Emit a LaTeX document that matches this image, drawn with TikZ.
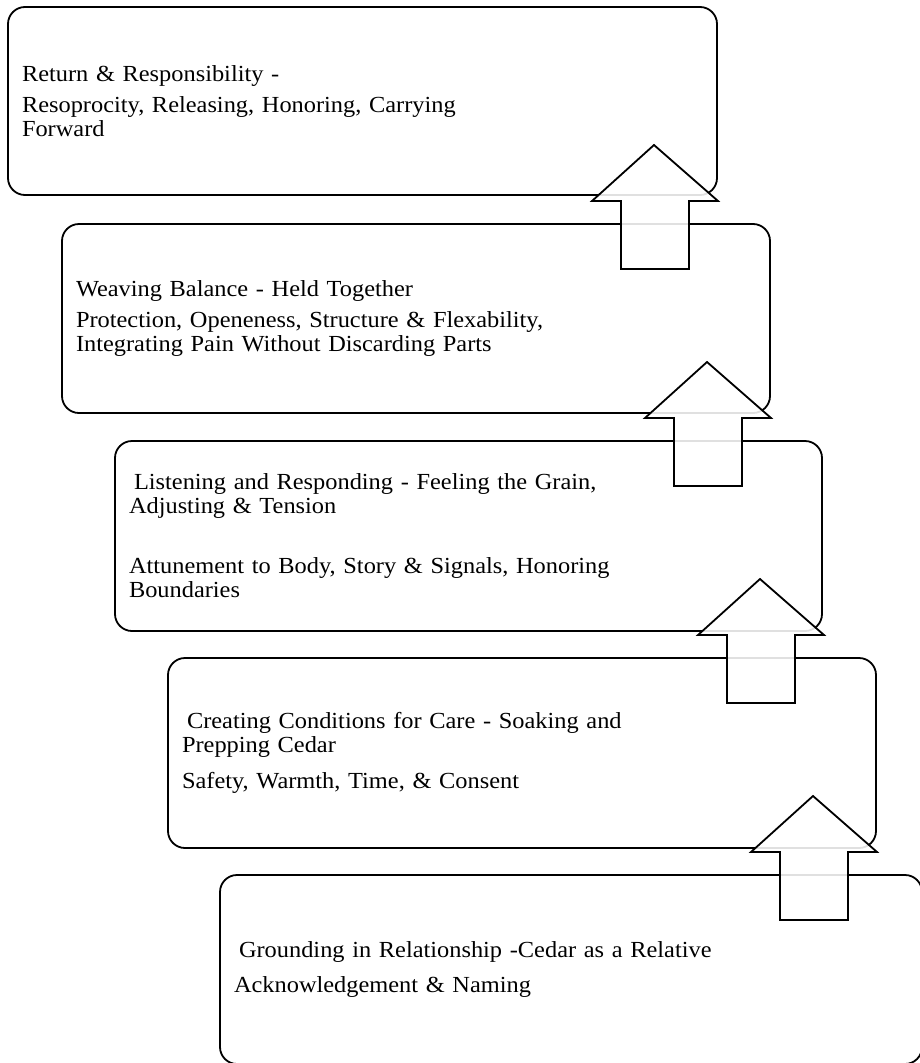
\documentclass[tikz,border=0pt]{standalone}
\usepackage{fontspec}
\setmainfont{Liberation Serif}[FakeStretch=1.06]
\begin{document}
\begin{tikzpicture}[x=1pt,y=-1pt,
  stage/.style={draw=black, line width=1.8pt, rounded corners=17pt, rectangle,
    anchor=north west, inner xsep=14pt, inner ysep=0pt, outer sep=0pt,
    align=left, font=\fontsize{23}{24}\selectfont},
  blockarrow/.style={draw=black, line width=1.8pt, fill=white, fill opacity=0.88,
    draw opacity=1, line join=miter}]
\useasboundingbox (0,0) rectangle (920,1063);
\clip (0,0) rectangle (920,1063);

\node[stage, minimum width=709pt, minimum height=188pt, text width=681pt] (b1) at (8,7)
  {Return \& Responsibility -\\[7pt]
   Resoprocity, Releasing, Honoring, Carrying\\
   Forward};
\node[stage, minimum width=708pt, minimum height=189pt, text width=680pt] (b2) at (62,224)
  {Weaving Balance - Held Together\\[7pt]
   Protection, Openeness, Structure \& Flexability,\\
   Integrating Pain Without Discarding Parts};
\node[stage, minimum width=707pt, minimum height=190pt, text width=679pt] (b3) at (115,441)
  {\hspace*{5pt}Listening and Responding - Feeling the Grain,\\
   Adjusting \& Tension\\[36pt]
   Attunement to Body, Story \& Signals, Honoring\\
   Boundaries};
\node[stage, minimum width=708pt, minimum height=190pt, text width=680pt] (b4) at (168,658)
  {\hspace*{5pt}Creating Conditions for Care - Soaking and\\
   Prepping Cedar\\[12pt]
   Safety, Warmth, Time, \& Consent};
\node[stage, minimum width=702pt, minimum height=189pt, text width=674pt] (b5) at (220,875)
  {\hspace*{5pt}Grounding in Relationship -Cedar as a Relative\\[11pt]
   Acknowledgement \& Naming};

\coordinate (t1) at (654,145);
\coordinate (t2) at (707,362);
\coordinate (t3) at (760,579);
\coordinate (t4) at (813,796);
\foreach \t in {t1,t2,t3,t4}{
  \draw[blockarrow] (\t) -- ++(-62,56) -- ++(29,0) -- ++(0,68) -- ++(68,0)
    -- ++(0,-68) -- ++(29,0) -- cycle;
}
\end{tikzpicture}
\end{document}
